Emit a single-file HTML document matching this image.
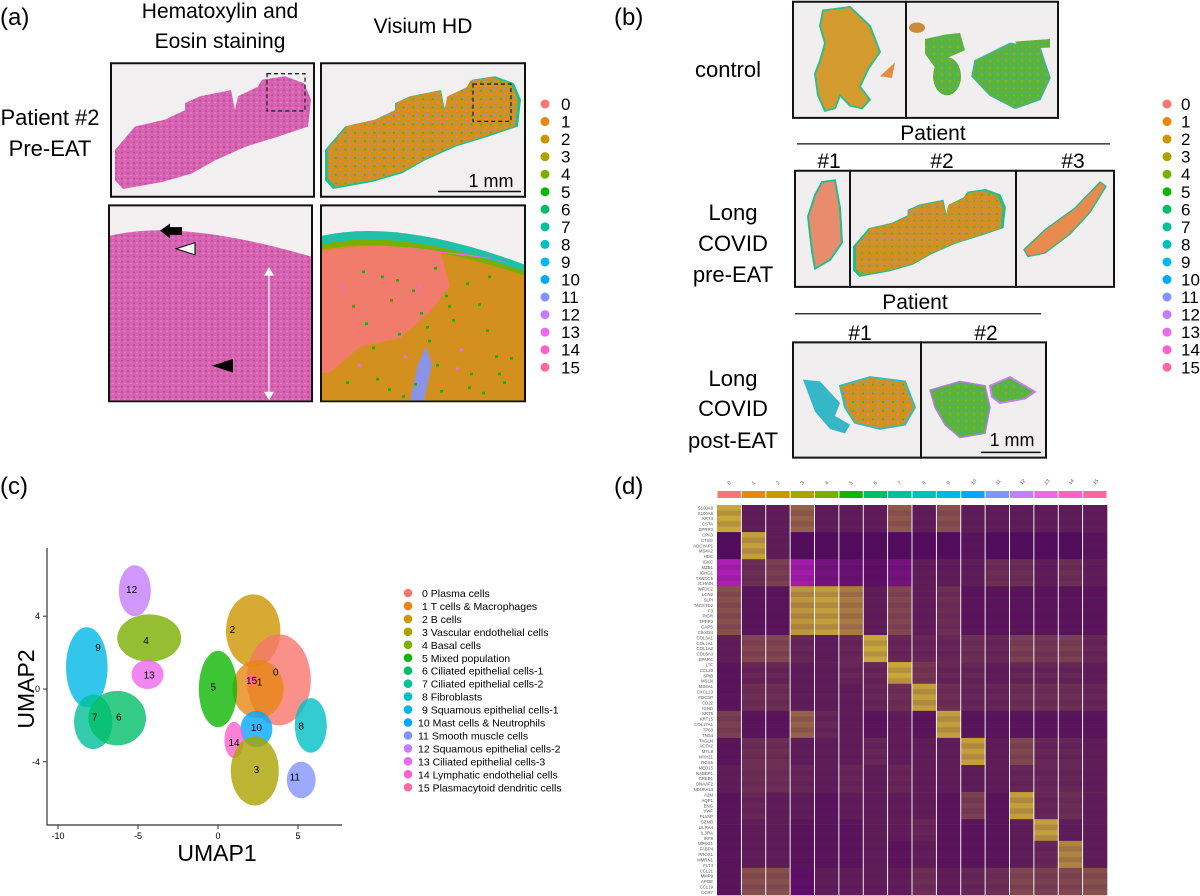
<!DOCTYPE html>
<html><head><meta charset="utf-8">
<style>
html,body{margin:0;padding:0;background:#fff;}
svg{display:block;font-family:"Liberation Sans",sans-serif;}
</style></head>
<body>
<svg id="fig" width="1200" height="896" viewBox="0 0 1200 896" xmlns="http://www.w3.org/2000/svg">
<defs>
  <pattern id="hePat" width="6" height="6" patternUnits="userSpaceOnUse">
    <rect width="6" height="6" fill="#D862B2"/>
    <circle cx="2" cy="2" r="1" fill="#B84A9A"/>
    <circle cx="5" cy="4.5" r="0.8" fill="#E58BC6"/>
  </pattern>
  <pattern id="vizPat" width="10" height="10" patternUnits="userSpaceOnUse">
    <rect width="10" height="10" fill="#D4901E"/>
    <rect x="2" y="3" width="2" height="2" fill="#36B53C"/>
    <rect x="7" y="7" width="2" height="2" fill="#E98B48"/>
    <rect x="6" y="1" width="2" height="2" fill="#8C92E8"/>
  </pattern>
  <pattern id="grnPat" width="8" height="8" patternUnits="userSpaceOnUse">
    <rect width="8" height="8" fill="#5CB33C"/>
    <rect x="2" y="2" width="2" height="2" fill="#2FB9A0"/>
    <rect x="5" y="5" width="2" height="2" fill="#8EAA2C"/>
  </pattern>
  <path id="tissueA" d="M115,208 L115,173 L135,146 L165,138 L185,127 L185,119 L200,111 L231,104 L235,127 L238,111 L258,100 L262,92 L285,88 L304,96 L311,115 L308,146 L277,158 L246,169 L215,185 L192,200 L162,210 L123,218 Z"/>
</defs>

<!-- ================= PANEL A shapes ================= -->
<g>
 <g transform="scale(1,0.8667)">
  <rect x="111" y="73" width="203" height="154" fill="#F1EFEF" stroke="#111" stroke-width="2" vector-effect="non-scaling-stroke"/>
  <use href="#tissueA" fill="url(#hePat)"/>
  <rect x="267" y="85" width="38" height="43" fill="none" stroke="#223" stroke-width="1.3" stroke-dasharray="4,3" vector-effect="non-scaling-stroke"/>

  <rect x="321" y="73" width="204" height="154" fill="#F1EFEF" stroke="#111" stroke-width="2" vector-effect="non-scaling-stroke"/>
  <g transform="translate(210,0)">
    <use href="#tissueA" fill="#1FBF8C"/>
    <use href="#tissueA" fill="url(#vizPat)" transform="translate(211,127) scale(0.97) translate(-211,-127)"/>
  </g>
  <rect x="473" y="97" width="38" height="43" fill="none" stroke="#223" stroke-width="1.3" stroke-dasharray="4,3" vector-effect="non-scaling-stroke"/>
  <line x1="438" y1="221" x2="521" y2="221" stroke="#111" stroke-width="1.5" vector-effect="non-scaling-stroke"/>

  <rect x="109" y="237" width="203" height="226" fill="#F4F0F2" stroke="#111" stroke-width="2" vector-effect="non-scaling-stroke"/>
  <path d="M110,272 Q180,252 311,296 L311,462 L110,462 Z" fill="url(#hePat)"/>
  <path d="M160,266 L170,258 L170,262 L182,262 L182,271 L170,271 L170,275 Z" fill="#000"/>
  <path d="M176,287 L195,280 L195,294 Z" fill="#fff" stroke="#111" stroke-width="1.2"/>
  <path d="M212,422 L233,414 L233,430 Z" fill="#000"/>
  <line x1="269" y1="314" x2="269" y2="456" stroke="#fff" stroke-width="1.2" vector-effect="non-scaling-stroke"/>
  <path d="M264,318 L269,308 L274,318 Z M264,452 L269,462 L274,452 Z" fill="#fff"/>

  <rect x="321" y="237" width="204" height="226" fill="#F4F0F2" stroke="#111" stroke-width="2" vector-effect="non-scaling-stroke"/>
  <path d="M322,272 Q400,252 524,305 L524,462 L322,462 Z" fill="#1FBFA8"/>
  <path d="M322,282 Q400,262 524,313 L524,462 L322,462 Z" fill="#7CAE00"/>
  <path d="M322,288 Q400,270 524,318 L524,462 L322,462 Z" fill="#D4901E"/>
  <path d="M322,290 Q380,278 440,290 L450,330 L430,360 L400,390 L360,400 L330,430 L322,430 Z" fill="#F17B6D"/>
  <path d="M430,290 Q480,292 510,305 L500,300 Z" fill="#E66BE0"/>
  <path d="M410,462 L418,420 L426,400 L432,420 L424,462 Z" fill="#8B93E6"/>
  <g id="vizDots"></g>
 </g>
  <text x="0" y="25" font-size="24">(a)</text>
  <text x="220" y="18" font-size="21" text-anchor="middle">Hematoxylin and</text>
  <text x="220" y="48" font-size="21" text-anchor="middle">Eosin staining</text>
  <text x="423" y="33" font-size="21" text-anchor="middle">Visium HD</text>
  <text x="50" y="125" font-size="22" text-anchor="middle">Patient #2</text>
  <text x="50" y="156" font-size="22" text-anchor="middle">Pre-EAT</text>
  <text x="491" y="187" font-size="18" text-anchor="middle">1 mm</text>
  <g id="legendA"></g>
</g>

<!-- ================= PANEL B ================= -->
<g>
 <g transform="scale(1,0.8667)">
  <rect x="793" y="2" width="113" height="134" fill="#F0EEEE" stroke="#111" stroke-width="2" vector-effect="non-scaling-stroke"/>
  <rect x="906" y="2" width="152" height="134" fill="#F0EEEE" stroke="#111" stroke-width="2" vector-effect="non-scaling-stroke"/>
  <path d="M823,12 L850,8 L870,30 L880,60 L868,80 L860,100 L870,115 L862,125 L850,122 L840,110 L835,125 L825,128 L818,110 L815,85 L820,70 L825,50 L820,30 Z" fill="#D39A2E" stroke="#2DBE8A" stroke-width="2"/>
  <path d="M880,88 L895,72 L892,90 Z" fill="#E58E3E"/>
  <path d="M925,45 L945,40 L960,38 L965,58 L945,68 L935,78 L925,62 Z" fill="url(#grnPat)"/>
  <ellipse cx="947" cy="88" rx="14" ry="22" fill="url(#grnPat)"/>
  <path d="M975,70 L1010,50 L1040,55 L1050,90 L1040,115 L1015,125 L990,110 L972,88 Z" fill="url(#grnPat)" stroke="#40B49A" stroke-width="1.5"/>
  <path d="M1015,48 L1050,45 L1050,55 L1020,56 Z" fill="url(#grnPat)"/>
  <ellipse cx="917" cy="32" rx="8" ry="6" fill="#CE8A3C"/>

  <line x1="797" y1="166" x2="1110" y2="166" stroke="#111" stroke-width="1.3" vector-effect="non-scaling-stroke"/>
  <rect x="795" y="197" width="55" height="134" fill="#F0EEEE" stroke="#111" stroke-width="2" vector-effect="non-scaling-stroke"/>
  <rect x="850" y="197" width="166" height="134" fill="#F0EEEE" stroke="#111" stroke-width="2" vector-effect="non-scaling-stroke"/>
  <rect x="1016" y="197" width="98" height="134" fill="#F0EEEE" stroke="#111" stroke-width="2" vector-effect="non-scaling-stroke"/>
  <path d="M822,210 L835,208 L840,240 L842,280 L830,300 L815,310 L812,290 L808,250 L815,225 Z" fill="#E98B6D" stroke="#1FBF8C" stroke-width="2"/>
  <g transform="translate(853,218) scale(0.78) translate(-115,-88)">
    <use href="#tissueA" fill="#1FBF8C"/>
    <use href="#tissueA" fill="url(#vizPat)" transform="translate(211,150) scale(0.96) translate(-211,-150)"/>
  </g>
  <path d="M1024,288 L1045,265 L1075,240 L1100,210 L1106,215 L1090,245 L1070,270 L1045,292 L1028,296 Z" fill="#E68A4E" stroke="#2FB98A" stroke-width="1.5"/>

  <line x1="795" y1="362" x2="1041" y2="362" stroke="#111" stroke-width="1.3" vector-effect="non-scaling-stroke"/>
  <rect x="793" y="395" width="128" height="133" fill="#F0EEEE" stroke="#111" stroke-width="2" vector-effect="non-scaling-stroke"/>
  <rect x="921" y="395" width="125" height="133" fill="#F0EEEE" stroke="#111" stroke-width="2" vector-effect="non-scaling-stroke"/>
  <path d="M803,438 L820,440 L840,465 L835,480 L850,490 L845,500 L830,495 L815,475 Z" fill="#35B7C8"/>
  <path d="M840,445 L870,435 L905,440 L915,470 L905,490 L880,495 L855,488 L845,470 Z" fill="url(#vizPat)" stroke="#30BCC0" stroke-width="2"/>
  <path d="M930,450 L960,440 L985,445 L990,470 L985,500 L960,505 L945,490 L935,470 Z" fill="url(#grnPat)" stroke="#B779F0" stroke-width="1.5"/>
  <path d="M990,445 L1010,435 L1035,452 L1025,460 L1000,465 L992,458 Z" fill="url(#grnPat)" stroke="#C77CFF" stroke-width="2"/>
  <line x1="981" y1="522" x2="1041" y2="522" stroke="#111" stroke-width="1.5" vector-effect="non-scaling-stroke"/>
 </g>
  <text x="614" y="25" font-size="24">(b)</text>
  <text x="728" y="77" font-size="22" text-anchor="middle">control</text>
  <text x="933" y="140" font-size="21" text-anchor="middle">Patient</text>
  <text x="829" y="168" font-size="21" text-anchor="middle">#1</text>
  <text x="942" y="168" font-size="21" text-anchor="middle">#2</text>
  <text x="1073" y="168" font-size="21" text-anchor="middle">#3</text>
  <text x="733" y="220" font-size="22" text-anchor="middle">Long</text>
  <text x="733" y="251" font-size="22" text-anchor="middle">COVID</text>
  <text x="733" y="282" font-size="22" text-anchor="middle">pre-EAT</text>
  <text x="915" y="309" font-size="21" text-anchor="middle">Patient</text>
  <text x="860" y="340" font-size="21" text-anchor="middle">#1</text>
  <text x="986" y="340" font-size="21" text-anchor="middle">#2</text>
  <text x="733" y="386" font-size="22" text-anchor="middle">Long</text>
  <text x="733" y="416" font-size="22" text-anchor="middle">COVID</text>
  <text x="733" y="448" font-size="22" text-anchor="middle">post-EAT</text>
  <text x="1012" y="446" font-size="18" text-anchor="middle">1 mm</text>
  <g id="legendB"></g>
</g>

<!-- ================= PANEL C ================= -->
<g>
  <text x="0" y="494" font-size="24">(c)</text>
  <g id="umapClusters"></g>
  <g id="umapAxes"></g>
  <text x="217" y="861" font-size="23" text-anchor="middle">UMAP1</text>
  <text x="0" y="0" font-size="23" text-anchor="middle" transform="translate(34,689) rotate(-90)">UMAP2</text>
  <g id="legendC"></g>
</g>

<!-- ================= PANEL D ================= -->
<g>
  <text x="614" y="494" font-size="24">(d)</text>
  <g id="heatmap"></g>
</g>
</svg>

<script>
const NS = "http://www.w3.org/2000/svg";
const clusterColors = ["#F8766D","#E68613","#CD9600","#ABA300","#7CAE00","#0CB702","#00BE67","#00C19A","#00BFC4","#00B8E7","#00A9FF","#8494FF","#C77CFF","#ED68ED","#FF61CC","#FF68A1"];
const clusterIds = ["0","1","2","3","4","5","6","7","8","9","10","11","12","13","14","15"];
const clusterNames = ["Plasma cells","T cells & Macrophages","B cells","Vascular endothelial cells","Basal cells","Mixed population","Ciliated epithelial cells-1","Ciliated epithelial cells-2","Fibroblasts","Squamous epithelial cells-1","Mast cells & Neutrophils","Smooth muscle cells","Squamous epithelial cells-2","Ciliated epithelial cells-3","Lymphatic endothelial cells","Plasmacytoid dendritic cells"];

// UMAP cluster data (data units)
const umapCx = [3.8, 2.5, 2.2, 2.3, -4.3, 0.0, -6.3, -7.8, 5.8, -8.2, 2.4, 5.2, -5.2, -4.4, 1.0, 2.1];
const umapCy = [0.5, 0.0, 3.2, -4.5, 2.8, 0.0, -1.6, -1.8, -2.0, 1.2, -2.2, -5.0, 5.4, 0.8, -2.8, 0.5];
const umapRx = [2.0, 1.6, 1.7, 1.5, 2.0, 1.2, 1.8, 1.2, 1.0, 1.3, 1.0, 0.9, 1.0, 1.0, 0.6, 0.3];
const umapRy = [2.5, 1.6, 2.0, 1.9, 1.3, 2.1, 1.5, 1.5, 1.5, 2.2, 1.0, 1.0, 1.4, 0.8, 1.0, 0.3];
const umapLabelX = [3.6, 2.6, 0.9, 2.4, -4.5, -0.3, -6.2, -7.7, 5.2, -7.5, 2.4, 4.8, -5.4, -4.3, 1.0, 2.1];
const umapLabelY = [0.95, 0.4, 3.3, -4.4, 2.7, 0.15, -1.5, -1.5, -2.0, 2.3, -2.1, -4.8, 5.5, 0.8, -2.9, 0.5];
const xTicks = [-10, -5, 0, 5];
const yTicks = [-4, 0, 4];

function sx(v){ return 218 + v*16; }
function sy(v){ return 689 - v*18.2; }

function drawNumLegend(gid, dotX, textX){
  const g = document.getElementById(gid);
  clusterIds.forEach((id,i)=>{
    const y = 104 + i*17.55;
    const c = document.createElementNS(NS,"circle");
    c.setAttribute("cx",dotX); c.setAttribute("cy",y); c.setAttribute("r",4.5);
    c.setAttribute("fill",clusterColors[i]);
    
    
    g.appendChild(c);
    const t = document.createElementNS(NS,"text");
    t.setAttribute("x",textX); t.setAttribute("y",y+6); t.setAttribute("font-size","17");
    t.textContent = id;
    
    
    g.appendChild(t);
  });
}
drawNumLegend("legendA", 545, 561);
drawNumLegend("legendB", 1167, 1181);

(function(){
  const g = document.getElementById("vizDots");
  const dotX = [340,352,365,372,381,390,398,404,412,420,428,436,445,452,460,470,478,486,495,503,346,358,376,388,402,414,426,440,456,468,482,498,510,362,396,418,434,448,466,488];
  const dotY = [330,352,372,400,318,345,384,410,334,360,392,420,340,368,402,430,350,380,410,440,440,420,436,448,456,442,376,450,424,446,452,430,412,312,322,330,308,352,326,318];
  dotX.forEach((x,i)=>{
    const r = document.createElementNS(NS,"rect");
    r.setAttribute("x",x); r.setAttribute("y",dotY[i]); r.setAttribute("width",3); r.setAttribute("height",3);
    r.setAttribute("fill", i%7===0 ? "#ED68ED" : "#0CB702");
    
    
    g.appendChild(r);
  });
})();

(function(){
  const g = document.getElementById("umapClusters");
  const order = [9,7,6,12,4,13,2,0,1,5,8,10,14,3,11,15];
  order.forEach(i=>{
    const e = document.createElementNS(NS,"ellipse");
    e.setAttribute("cx",sx(umapCx[i])); e.setAttribute("cy",sy(umapCy[i]));
    e.setAttribute("rx",umapRx[i]*16); e.setAttribute("ry",umapRy[i]*18.2);
    e.setAttribute("fill",clusterColors[i]); e.setAttribute("fill-opacity","0.8");
    
    
    g.appendChild(e);
  });
  clusterIds.forEach((id,i)=>{
    const t = document.createElementNS(NS,"text");
    t.setAttribute("x",sx(umapLabelX[i])); t.setAttribute("y",sy(umapLabelY[i])+4);
    t.setAttribute("font-size","10"); t.setAttribute("text-anchor","middle");
    t.textContent = id;
    
    
    g.appendChild(t);
  });
  const a = document.getElementById("umapAxes");
  const ax = document.createElementNS(NS,"path");
  ax.setAttribute("d","M47,548 L47,825 L342,825");
  ax.setAttribute("fill","none"); ax.setAttribute("stroke","#333"); ax.setAttribute("stroke-width","1.2");
  
  
  a.appendChild(ax);
  xTicks.forEach(v=>{
    const l = document.createElementNS(NS,"line");
    l.setAttribute("x1",sx(v)); l.setAttribute("x2",sx(v)); l.setAttribute("y1",825); l.setAttribute("y2",829);
    l.setAttribute("stroke","#333");
    
    
    a.appendChild(l);
    const t = document.createElementNS(NS,"text");
    t.setAttribute("x",sx(v)); t.setAttribute("y",839); t.setAttribute("font-size","9"); t.setAttribute("text-anchor","middle");
    t.textContent = String(v);
    
    
    a.appendChild(t);
  });
  yTicks.forEach(v=>{
    const l = document.createElementNS(NS,"line");
    l.setAttribute("x1",43); l.setAttribute("x2",47); l.setAttribute("y1",sy(v)); l.setAttribute("y2",sy(v));
    l.setAttribute("stroke","#333");
    
    
    a.appendChild(l);
    const t = document.createElementNS(NS,"text");
    t.setAttribute("x",40); t.setAttribute("y",sy(v)+3); t.setAttribute("font-size","9"); t.setAttribute("text-anchor","end");
    t.textContent = String(v);
    
    
    a.appendChild(t);
  });
  const lg = document.getElementById("legendC");
  clusterNames.forEach((n,i)=>{
    const y = 593 + i*12.95;
    const c = document.createElementNS(NS,"circle");
    c.setAttribute("cx",408); c.setAttribute("cy",y); c.setAttribute("r",4.3); c.setAttribute("fill",clusterColors[i]);
    
    
    lg.appendChild(c);
    const t = document.createElementNS(NS,"text");
    t.setAttribute("x",i<10?422:418); t.setAttribute("y",y+4); t.setAttribute("font-size","10.5");
    t.textContent = clusterIds[i] + " " + n;
    
    
    lg.appendChild(t);
  });
})();

// ---- Heatmap
const heatColumns = ["0","1","2","3","4","5","6","7","8","9","10","11","12","13","14","15"];
const geneGroups = [
  ["S100A8","S100A9","KRT4","CSTA","SPRR3"],
  ["CPA3","CTSG","ADCYAP1","MS4A2","HDC"],
  ["IGKC","MZB1","IGHG1","TXNDC5","JCHAIN"],
  ["WFDC2","LCN2","SLPI","TACSTD2","F3","PIGR","TPPP3","CAPS","C9orf24"],
  ["COL3A1","COL1A1","COL1A2","COL6A3","SPARC"],
  ["LTF","CCL20","SPIB","MSLN"],
  ["MS4A1","CXCL13","FDCSP","CD22","IGHD"],
  ["KRT5","KRT15","COL17A1","TP63","TNS4"],
  ["TAGLN","ACTA2","MYL9","MYH11","RGS5"],
  ["MED15","RABEP1","CREB1","DNAAF2","NDUFA13"],
  ["A2M","AQP1","ENG","VWF","PLVAP"],
  ["GZMB","LILRA4","IL3RA","IRF8"],
  ["MPEG1","FABP4","PROX1","MMRN1","FLT4"],
  ["CCL21","MMP9","APOE","CCL19","CCR7"]
];
const groupLevels = [
  [0.9,0.1,0.1,0.5,0.1,0.1,0.1,0.45,0.1,0.4,0.1,0.1,0.1,0.1,0.1,0.1],
  [0.0,0.85,0.1,0.0,0.0,0.0,0.0,0.0,0.0,0.0,0.05,0.0,0.0,0.0,0.0,0.05],
  [-0.8,0.2,0.3,-0.7,-0.3,-0.2,-0.1,-0.3,0.1,0.1,0.1,0.2,0.2,0.1,0.2,0.1],
  [0.4,0.05,0.05,0.8,0.85,0.65,0.1,0.35,0.1,0.2,0.05,0.05,0.05,0.05,0.05,0.05],
  [0.1,0.35,0.35,0.15,0.1,0.15,0.9,0.15,0.15,0.15,0.2,0.15,0.3,0.25,0.3,0.15],
  [0.05,0.15,0.15,0.1,0.1,0.15,0.15,0.9,0.25,0.15,0.15,0.1,0.15,0.15,0.15,0.1],
  [0.05,0.2,0.2,0.1,0.1,0.1,0.15,0.2,0.85,0.2,0.15,0.15,0.2,0.2,0.2,0.15],
  [0.3,0.05,0.05,0.5,0.15,0.1,0.05,0.1,0.05,0.85,0.05,0.05,0.05,0.05,0.05,0.05],
  [0.05,0.2,0.2,0.1,0.1,0.1,0.15,0.1,0.1,0.1,0.85,0.1,0.35,0.15,0.15,0.1],
  [0.1,0.2,0.2,0.15,0.1,0.15,0.1,0.15,0.1,0.1,0.1,0.1,0.15,0.15,0.15,0.1],
  [0.05,0.15,0.1,0.1,0.05,0.1,0.1,0.1,0.1,0.05,0.3,0.05,0.85,0.15,0.2,0.1],
  [0.05,0.1,0.1,0.05,0.05,0.05,0.1,0.1,0.15,0.05,0.05,0.05,0.1,0.85,0.1,0.1],
  [0.05,0.1,0.1,0.05,0.05,0.05,0.1,0.05,0.1,0.05,0.05,0.05,0.1,0.15,0.7,0.1],
  [0.05,0.4,0.4,-0.1,0.1,0.1,0.1,0.1,0.2,0.1,0.15,0.2,0.35,0.3,0.35,0.4]
];
function heatColor(v){
  const base=[82,12,92], hi=[235,215,45], lo=[215,40,220];
  const t = Math.min(1,Math.abs(v)), tg = v>=0?hi:lo;
  const c = base.map((b,k)=>Math.round(b+(tg[k]-b)*t*0.85));
  return "rgb("+c.join(",")+")";
}
(function(){
  const g = document.getElementById("heatmap");
  const x0=717, x1=1107, y0=505, y1=895;
  const cw=(x1-x0)/heatColumns.length;
  let nGenes=0; geneGroups.forEach(gr=>nGenes+=gr.length);
  const rh=(y1-y0)/nGenes;
  heatColumns.forEach((c,j)=>{
    const r=document.createElementNS(NS,"rect");
    r.setAttribute("x",x0+j*cw+0.5); r.setAttribute("y",491); r.setAttribute("width",cw-1); r.setAttribute("height",7);
    r.setAttribute("fill",clusterColors[j]);
    
    
    g.appendChild(r);
    const t=document.createElementNS(NS,"text");
    const tx=x0+(j+0.5)*cw;
    t.setAttribute("x",tx); t.setAttribute("y",485); t.setAttribute("font-size","5"); t.setAttribute("fill","#555");
    t.setAttribute("transform","rotate(-45 "+tx+" 485)");
    t.textContent=c;
    
    
    g.appendChild(t);
  });
  let row=0;
  geneGroups.forEach((gr,gi)=>{
    gr.forEach((gene,k)=>{
      const y=y0+row*rh;
      heatColumns.forEach((c,j)=>{
        const r=document.createElementNS(NS,"rect");
        r.setAttribute("x",x0+j*cw); r.setAttribute("y",y); r.setAttribute("width",cw+0.3); r.setAttribute("height",rh+0.3);
        const shade = (k%2===0)?1:0.85;
        r.setAttribute("fill",heatColor(groupLevels[gi][j]*shade));
        
        
        g.appendChild(r);
      });
      const t=document.createElementNS(NS,"text");
      t.setAttribute("x",713); t.setAttribute("y",y+rh*0.8); t.setAttribute("font-size","4.3"); t.setAttribute("fill","#555"); t.setAttribute("text-anchor","end");
      t.textContent=gene;
      
      
      g.appendChild(t);
      row++;
    });
  });
  for(let j=1;j<heatColumns.length;j++){
    const l=document.createElementNS(NS,"line");
    l.setAttribute("x1",x0+j*cw); l.setAttribute("x2",x0+j*cw); l.setAttribute("y1",y0); l.setAttribute("y2",y1);
    l.setAttribute("stroke","#fff"); l.setAttribute("stroke-width","0.9");
    
    
    g.appendChild(l);
  }
})();
</script>
</body></html>
